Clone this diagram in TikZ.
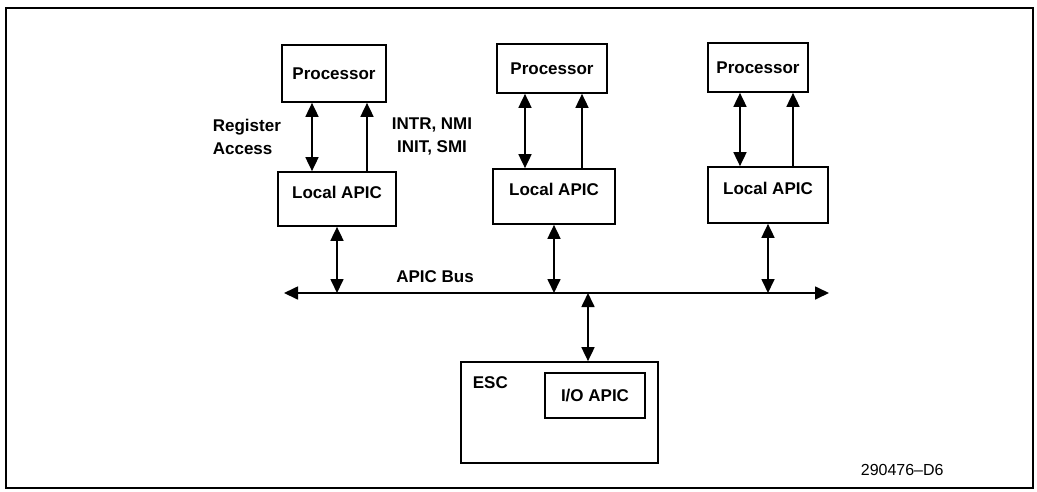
\documentclass[tikz,border=0pt]{standalone}
\usepackage{fontspec}
\setmainfont{Liberation Sans}
\usetikzlibrary{arrows.meta}

\begin{document}
\begin{tikzpicture}[x=1pt,y=-1pt,
                every path/.style={>={Triangle[length=14pt,width=13pt]},line width=1.7pt},
                box/.style={draw,rectangle,inner sep=0pt,font=\fontsize{17}{22}\selectfont\bfseries},
                apic/.style={box,text height=26pt,text depth=28pt},
                lbl/.style={inner sep=0pt,font=\fontsize{17}{23}\selectfont\bfseries}]
  \useasboundingbox (0,0) rectangle (1037,491);
  \draw (6,8) rectangle (1033,488);
  % processors and their local APICs
  \node[box,minimum width=104pt,minimum height=57pt]  (proc1) at (334,73.5)  {Processor};
  \node[box,minimum width=110pt,minimum height=49pt]  (proc2) at (552,68.5)  {Processor};
  \node[box,minimum width=100pt,minimum height=49pt]  (proc3) at (758,67.5)  {Processor};
  \node[apic,minimum width=118pt,minimum height=54pt] (lapic1) at (337,199) {Local APIC};
  \node[apic,minimum width=122pt,minimum height=55pt] (lapic2) at (554,196.5) {Local APIC};
  \node[apic,minimum width=120pt,minimum height=56pt] (lapic3) at (768,195) {Local APIC};
  \node[lbl,anchor=west,align=left] (regacc) at (212,136.5) {Register\\Access};
  \node[lbl,align=center]           (intsig) at (432,136)   {INTR, NMI\\INIT, SMI};
  % ESC with the I/O APIC
  \node[box,minimum width=197pt,minimum height=101pt] (esc) at (559.5,412.5) {};
  \node[lbl,anchor=west] (esclbl) at (472,383) {ESC};
  \node[box,minimum width=100pt,minimum height=45pt] (ioapic) at (595,395.5) {I/O APIC};
  % APIC bus
  \coordinate (busw) at (284,293);
  \coordinate (buse) at (829,293);
  \node[lbl] (buslbl) at (435,277) {APIC Bus};
  \node[inner sep=0pt,anchor=west,font=\fontsize{16}{18}\selectfont] (fignum) at (860,470) {290476–D6};
  \draw[<->] (busw) -- (buse);
  \draw[<->] ([xshift=-22pt]proc1.south) -- ([xshift=-22pt]proc1.south |- lapic1.north);
  \draw[<->] ([xshift=-27pt]proc2.south) -- ([xshift=-27pt]proc2.south |- lapic2.north);
  \draw[<->] ([xshift=-18pt]proc3.south) -- ([xshift=-18pt]proc3.south |- lapic3.north);
  \draw[->] ([xshift=33pt]proc1.south |- lapic1.north) -- ([xshift=33pt]proc1.south);
  \draw[->] ([xshift=30pt]proc2.south |- lapic2.north) -- ([xshift=30pt]proc2.south);
  \draw[->] ([xshift=35pt]proc3.south |- lapic3.north) -- ([xshift=35pt]proc3.south);
  \draw[<->] (lapic1.south) -- (lapic1.south |- busw);
  \draw[<->] (lapic2.south) -- (lapic2.south |- busw);
  \draw[<->] (lapic3.south) -- (lapic3.south |- busw);
  \draw[<->] ([xshift=28.5pt]esc.north |- busw) -- ([xshift=28.5pt]esc.north);
\end{tikzpicture}
\end{document}
